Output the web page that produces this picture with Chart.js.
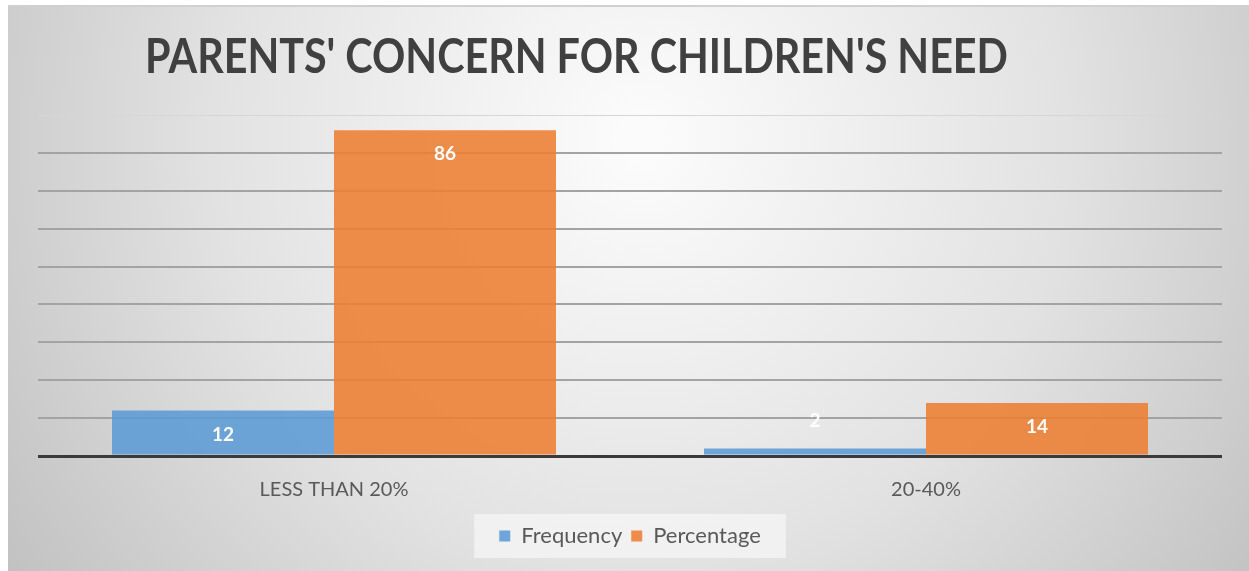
<!DOCTYPE html>
<html>
<head>
<meta charset="utf-8">
<script src="https://cdn.jsdelivr.net/npm/chart.js@4"></script>
<style>
  html, body { margin: 0; padding: 0; background: #fff; }
  #wrap { width: 1249px; height: 571px; }
</style>
</head>
<body>
<div id="wrap"><canvas id="concernChart"></canvas></div>
<script>
const categories = ['LESS THAN 20%', '20-40%'];
const frequency = [12, 2];
const percentage = [86, 14];
const yMax = 90;
const yStep = 10;
const titleText = "PARENTS' CONCERN FOR CHILDREN'S NEED";

// gray radial background, title and legend box
const backdrop = {
    id: 'backdrop',
    beforeDraw(chart) {
        const c = chart.ctx;
        const w = chart.width, h = chart.height;
        c.save();
        c.fillStyle = '#ffffff';
        c.fillRect(0, 0, w, h);
        const g = c.createRadialGradient(640, 140, 20, 640, 140, 760);
        g.addColorStop(0, '#fbfbfb');
        g.addColorStop(0.55, '#e2e2e2');
        g.addColorStop(1, '#c2c2c2');
        c.fillStyle = g;
        c.fillRect(8, 6, w - 8, h - 6);
        c.fillStyle = '#d0d0d0';
        c.fillRect(8, 5, w - 8, 2);

        // legend panel
        const boxes = chart.legend.legendHitBoxes;
        if (boxes && boxes.length) {
            const l = Math.min(...boxes.map(b => b.left));
            const r = Math.max(...boxes.map(b => b.left + b.width));
            const mid = boxes[0].top + boxes[0].height / 2;
            c.fillStyle = 'rgba(245,245,245,0.75)';
            c.fillRect(l - 25, mid - 22, r - l + 50, 44);
        }

        // title, condensed to the reference width
        c.font = 'bold 48px Lato';
        c.fillStyle = '#404040';
        c.textBaseline = 'alphabetic';
        const tw = c.measureText(titleText).width;
        c.translate(145, 73);
        c.scale(863 / tw, 1);
        c.fillText(titleText, 0, 0);
        c.restore();
    }
};

const valueLabels = {
    id: 'valueLabels',
    afterDatasetsDraw(chart) {
        const c = chart.ctx;
        c.save();
        c.font = 'bold 19px Lato';
        c.fillStyle = '#ffffff';
        c.textAlign = 'center';
        c.textBaseline = 'middle';
        chart.data.datasets.forEach((ds, i) => {
            chart.getDatasetMeta(i).data.forEach((bar, j) => {
                const hgt = bar.base - bar.y;
                const y = hgt < 30 ? bar.base - 34 : bar.y + 24;
                c.fillText(String(ds.data[j]), bar.x, y);
            });
        });
        c.restore();
    }
};

const ctx = document.getElementById('concernChart').getContext('2d');

new Chart(ctx, {
    type: 'bar',
    data: {
        labels: categories,
        datasets: [
            {
                label: 'Frequency',
                data: frequency,
                backgroundColor: 'rgba(91, 155, 213, 0.88)',
            },
            {
                label: 'Percentage',
                data: percentage,
                backgroundColor: 'rgba(237, 125, 49, 0.88)',
            },
        ],
    },
    options: {
        responsive: true,
        maintainAspectRatio: false,
        animation: false,
        layout: { padding: { left: 38, right: 27, top: 115, bottom: 14 } },
        datasets: { bar: { categoryPercentage: 0.75, barPercentage: 1.0 } },
        scales: {
            x: {
                grid: { display: false },
                border: { display: false },
                ticks: { color: '#595959', font: { family: 'Lato', size: 20 }, padding: 14 },
            },
            y: {
                min: 0,
                max: yMax,
                ticks: { display: false, stepSize: yStep },
                border: { display: false },
                grid: {
                    drawTicks: false,
                    color: (c) => c.tick.value === 0 ? '#3a3a3a' : (c.tick.value === yMax ? '#d6d6d6' : '#a3a3a3'),
                    lineWidth: (c) => c.tick.value === 0 ? 3 : (c.tick.value === yMax ? 1 : 2),
                },
            },
        },
        plugins: {
            title: { display: false },
            tooltip: { enabled: false },
            legend: {
                position: 'bottom',
                labels: {
                    color: '#595959',
                    font: { family: 'Lato', size: 22 },
                    boxWidth: 11,
                    boxHeight: 11,
                    padding: 9,
                },
            },
        },
    },
    plugins: [backdrop, valueLabels],
});
</script>
</body>
</html>
